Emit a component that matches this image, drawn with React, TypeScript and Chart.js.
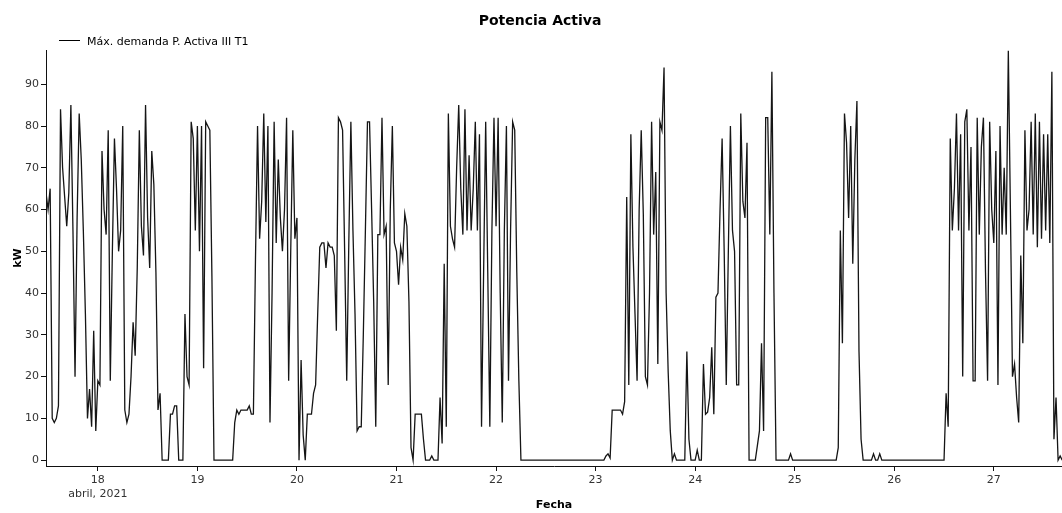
import React, { useEffect, useRef } from 'react';
import { Chart, registerables } from 'chart.js';

Chart.register(...registerables);

const TITLE = 'Potencia Activa';
const SERIES_LABEL = 'Máx. demanda P. Activa III T1';
const X_TITLE = 'Fecha';
const Y_TITLE = 'kW';
const MONTH_LABEL = 'abril, 2021';

// 17 abril 2021, 11:30 — one reading every 30 minutes
const START_DAY = 17 + 11.5 / 24;
const STEP_DAYS = 1 / 48;

const X_TICKS = [18, 19, 20, 21, 22, 23, 24, 25, 26, 27];
const X_TICK_LABELS = ['18', '19', '20', '21', '22', '23', '24', '25', '26', '27'];
const Y_TICKS = [0, 10, 20, 30, 40, 50, 60, 70, 80, 90];

const VALUES = [
  64, 60, 65, 10, 9, 10, 13, 84, 70, 63,
  56, 64, 85, 55, 20, 58, 83, 72, 55, 35,
  10, 17, 8, 31, 7, 19, 18, 74, 60, 54,
  79, 19, 50, 77, 65, 50, 55, 80, 12, 9,
  11, 20, 33, 25, 46, 79, 56, 49, 85, 58,
  46, 74, 66, 45, 12, 16, 0, 0, 0, 0,
  11, 11, 13, 13, 0, 0, 0, 35, 20, 18,
  81, 77, 55, 80, 50, 80, 22, 81, 80, 79,
  44, 0, 0, 0, 0, 0, 0, 0, 0, 0,
  0, 9, 12, 11, 12, 12, 12, 12, 13, 11,
  11, 48, 80, 53, 62, 83, 57, 80, 9, 40,
  81, 52, 72, 58, 50, 60, 82, 19, 50, 79,
  53, 58, 0, 24, 6, 0, 11, 11, 11, 16,
  18, 35, 51, 52, 52, 46, 52, 51, 51, 49,
  31, 82, 81, 79, 50, 19, 52, 81, 55, 35,
  7, 8, 8, 30, 55, 81, 81, 60, 38, 8,
  54, 54, 82, 54, 56, 18, 60, 80, 52, 50,
  42, 51, 48, 59, 56, 38, 3, 0, 11, 11,
  11, 11, 5, 0, 0, 0, 1, 0, 0, 0,
  15, 4, 47, 8, 83, 56, 53, 51, 70, 85,
  65, 54, 84, 55, 73, 55, 65, 81, 55, 78,
  8, 45, 81, 45, 8, 55, 82, 56, 82, 40,
  9, 55, 80, 19, 55, 81, 79, 45, 19, 0,
  0, 0, 0, 0, 0, 0, 0, 0, 0, 0,
  0, 0, 0, 0, 0, 0, 0, 0, 0, 0,
  0, 0, 0, 0, 0, 0, 0, 0, 0, 0,
  0, 0, 0, 0, 0, 0, 0, 0, 0, 0,
  1, 1.5, 0.5, 12, 12, 12, 12, 12, 11, 14,
  63, 18, 78, 51, 35, 19, 60, 79, 59, 20,
  18, 40, 81, 54, 69, 23, 81, 79, 94, 40,
  21, 7, 0, 1.5, 0, 0, 0, 0, 0, 26,
  5, 0, 0, 0, 2.4, 0, 0, 23, 11, 11.5,
  15, 27, 11, 39, 40, 60, 77, 50, 18, 50,
  80, 55, 50, 18, 18, 83, 62, 58, 76, 0,
  0, 0, 0, 3.5, 7, 28, 7, 82, 82, 54,
  93, 40, 0, 0, 0, 0, 0, 0, 0, 1.5,
  0, 0, 0, 0, 0, 0, 0, 0, 0, 0,
  0, 0, 0, 0, 0, 0, 0, 0, 0, 0,
  0, 0, 3, 55, 28, 83, 76, 58, 80, 47,
  72, 86, 26, 5, 0, 0, 0, 0, 0, 1.5,
  0, 0, 1.5, 0, 0, 0, 0, 0, 0, 0,
  0, 0, 0, 0, 0, 0, 0, 0, 0, 0,
  0, 0, 0, 0, 0, 0, 0, 0, 0, 0,
  0, 0, 0, 0, 16, 8, 77, 55, 65, 83,
  55, 78, 20, 81, 84, 55, 75, 19, 19, 82,
  54, 75, 82, 45, 19, 81, 60, 52, 74, 18,
  80, 54, 70, 54, 98, 60, 20, 23, 15, 9,
  49, 28, 79, 55, 60, 81, 54, 83, 51, 81,
  53, 78, 55, 78, 52, 93, 5, 15, 0, 1,
  0,
];

const FONT = '"DejaVu Sans", "Liberation Sans", sans-serif';

const headerPlugin = {
  id: 'header',
  afterDraw(chart: any) {
    const ctx = chart.ctx;
    ctx.save();
    ctx.fillStyle = '#000';
    ctx.font = `bold 14px ${FONT}`;
    ctx.textAlign = 'center';
    ctx.textBaseline = 'alphabetic';
    ctx.fillText(TITLE, 540, 25);

    ctx.strokeStyle = '#000';
    ctx.lineWidth = 1;
    ctx.beginPath();
    ctx.moveTo(59, 40.5);
    ctx.lineTo(80, 40.5);
    ctx.stroke();

    ctx.font = `11px ${FONT}`;
    ctx.textAlign = 'left';
    ctx.fillText(chart.data.datasets[0].label, 87, 45);
    ctx.restore();
  },
};

export default function App() {
  const canvasRef = useRef<HTMLCanvasElement | null>(null);

  useEffect(() => {
    const canvas = canvasRef.current;
    if (!canvas) return;
    const points = VALUES.map((v, i) => ({ x: START_DAY + i * STEP_DAYS, y: v }));

    const chart = new Chart(canvas, {
      type: 'line',
      data: {
        datasets: [
          {
            label: SERIES_LABEL,
            data: points,
            borderColor: '#151515',
            borderWidth: 1.3,
            pointRadius: 0,
            tension: 0,
            fill: false,
          },
        ],
      },
      options: {
        animation: false,
        responsive: false,
        devicePixelRatio: 1,
        parsing: false,
        normalized: true,
        layout: { padding: { top: 50, left: 0, right: 0, bottom: 0 } },
        plugins: {
          legend: { display: false },
          title: { display: false },
          tooltip: { enabled: false },
        },
        scales: {
          x: {
            type: 'linear',
            min: 17 + 11.5 / 24,
            max: 27.685,
            afterBuildTicks: (scale: any) => {
              scale.ticks = X_TICKS.map((v) => ({ value: v }));
            },
            afterFit: (scale: any) => {
              scale.height = 47;
            },
            ticks: {
              autoSkip: false,
              maxRotation: 0,
              padding: 3,
              color: '#333',
              font: { family: FONT, size: 11 },
              callback: (value: any) => {
                const idx = X_TICKS.indexOf(Number(value));
                if (idx < 0) return '';
                return idx === 0 ? [X_TICK_LABELS[idx], MONTH_LABEL] : X_TICK_LABELS[idx];
              },
            },
            grid: { drawOnChartArea: false, drawTicks: true, tickLength: 5, color: '#111' },
            border: { display: true, color: '#111', width: 1 },
            title: {
              display: true,
              text: X_TITLE,
              color: '#000',
              font: { family: FONT, size: 11, weight: 'bold' },
              padding: { top: 0, bottom: 1 },
            },
          },
          y: {
            type: 'linear',
            min: -1.4,
            max: 98.2,
            afterBuildTicks: (scale: any) => {
              scale.ticks = Y_TICKS.map((v) => ({ value: v }));
            },
            afterFit: (scale: any) => {
              scale.width = 46;
            },
            ticks: {
              padding: 2,
              color: '#333',
              font: { family: FONT, size: 11 },
              callback: (value: any) => String(value),
            },
            grid: { drawOnChartArea: false, drawTicks: true, tickLength: 5, color: '#111' },
            border: { display: true, color: '#111', width: 1 },
            title: {
              display: true,
              text: Y_TITLE,
              color: '#000',
              font: { family: FONT, size: 11, weight: 'bold' },
              padding: { top: 12, bottom: 0 },
            },
          },
        },
      },
      plugins: [headerPlugin],
    } as any);

    return () => chart.destroy();
  }, []);

  return (
    <div style={{ position: 'absolute', left: 0, top: 0, width: 1062, height: 513, background: '#fff' }}>
      <canvas ref={canvasRef} width={1062} height={513} style={{ width: 1062, height: 513, display: 'block' }} />
    </div>
  );
}
